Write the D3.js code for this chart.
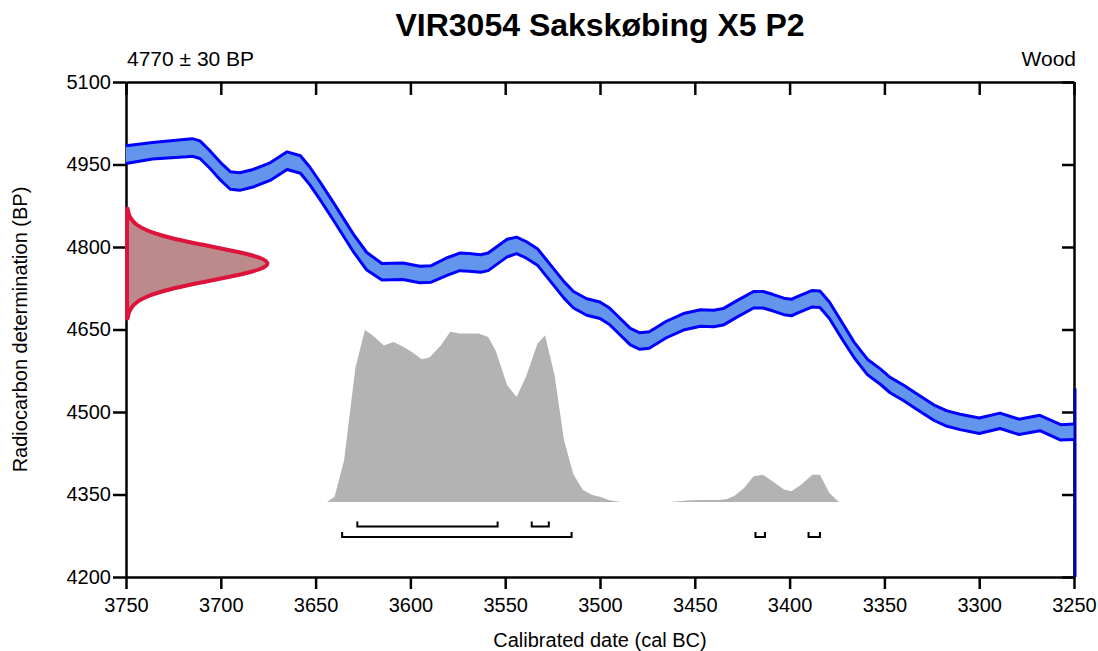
<!DOCTYPE html>
<html>
<head>
<meta charset="utf-8">
<script src="https://cdn.jsdelivr.net/npm/d3@7"></script>
<style>
  body { margin: 0; background: #fff; }
  svg { font-family: "Liberation Sans", Arial, sans-serif; }
  .axis path, .axis line { stroke: #000; stroke-width: 2.5; }
  .axis text { font-family: "Liberation Sans", Arial, sans-serif; font-size: 20px; fill: #000; }
</style>
</head>
<body>
<svg id="chart" width="1098" height="651"></svg>
<script>
// calibration curve (cal BC, BP, 1 sigma)
const curveYears = [3750,3736,3718,3715,3711,3706,3700,3695,3690,3683,3674,3665,3658,3653,3648,3641,3630,3623,3615,3604,3595,3589,3581,3574,3569,3563,3559,3549,3544,3539,3533,3526,3519,3514,3507,3500,3495,3484,3479,3474,3465,3456,3447,3440,3435,3428,3419,3414,3409,3403,3399,3395,3388,3384,3379,3372,3366,3359,3352,3347,3340,3333,3324,3317,3310,3300,3289,3279,3268,3257,3250];
const curveBP = [4968,4975,4980,4981,4977,4960,4937,4921,4919,4925,4937,4957,4950,4929,4904,4867,4807,4774,4755,4756,4750,4751,4764,4773,4772,4770,4773,4798,4803,4795,4782,4752,4722,4704,4691,4685,4674,4637,4629,4631,4650,4664,4671,4670,4673,4687,4704,4704,4699,4692,4690,4696,4706,4705,4685,4646,4613,4582,4564,4549,4535,4519,4499,4488,4482,4475,4484,4473,4480,4463,4464];
const curveErr = [16,15,16,16,16,16,16,16,16,16,16,16,16,16,16,16,16,16,15,15,15,15,16,16,16,16,16,16,15,15,15,15,15,15,15,15,15,15,15,15,15,15,15,15,15,15,15,15,15,15,15,15,15,15,15,15,14,14,14,14,14,14,14,14,14,14,14,14,14,14,14];

// radiocarbon measurement 4770 +/- 30 BP
const dateLabel = "4770 ± 30 BP";
const materialLabel = "Wood";
const measBP = [4670,4680,4690,4700,4710,4720,4730,4740,4750,4760,4770,4780,4790,4800,4810,4820,4830,4840,4850,4860,4870];
const measDensity = [0.004,0.011,0.029,0.066,0.135,0.249,0.411,0.607,0.801,0.946,1,0.946,0.801,0.607,0.411,0.249,0.135,0.066,0.029,0.011,0.004];

// calibrated probability (relative)
const probYears = [3653,3644,3640,3635,3629,3624,3620,3614,3609,3605,3599,3594,3590,3584,3579,3574,3564,3559,3555,3549,3544,3539,3533,3529,3524,3519,3514,3509,3504,3500,3495,3489,3463,3454,3447,3437,3433,3429,3424,3419,3414,3409,3403,3399,3394,3388,3384,3379,3374,3368];
const probValues = [0,0,0.03,0.24,0.78,1,0.97,0.91,0.93,0.91,0.87,0.83,0.84,0.91,0.99,0.98,0.98,0.96,0.88,0.68,0.61,0.73,0.92,0.97,0.74,0.36,0.16,0.07,0.04,0.03,0.01,0,0,0.008,0.012,0.012,0.017,0.037,0.081,0.149,0.159,0.12,0.072,0.062,0.1,0.159,0.159,0.052,0,0];

// highest posterior density ranges
const ranges68 = [[3628,3554],[3536,3527]];
const ranges95 = [[3636,3515],[3418,3413],[3390,3384]];

const xTicks = [3750,3700,3650,3600,3550,3500,3450,3400,3350,3300,3250];
const yTicks = [4200,4350,4500,4650,4800,4950,5100];

const svg = d3.select("#chart");
const mLeft = 126, mRight = 1074, mTop = 82, mBottom = 577;

const x = d3.scaleLinear().domain([3750, 3250]).range([mLeft, mRight]);
const y = d3.scaleLinear().domain([4200, 5100]).range([mBottom, mTop]);
const probY = d3.scaleLinear().domain([0, 1]).range([502, 330]);
const measX = d3.scaleLinear().domain([0, 1]).range([mLeft + 1, 270]);

// axes
svg.append("g").attr("class", "axis")
    .attr("transform", `translate(0,${mBottom})`)
    .call(d3.axisBottom(x).tickValues(xTicks).tickFormat(d3.format("d")).tickSize(12).tickSizeOuter(0).tickPadding(9));
svg.append("g").attr("class", "axis")
    .attr("transform", `translate(0,${mTop})`)
    .call(d3.axisTop(x).tickValues(xTicks).tickSize(-13).tickSizeOuter(0).tickFormat(""));
svg.append("g").attr("class", "axis")
    .attr("transform", `translate(${mLeft},0)`)
    .call(d3.axisLeft(y).tickValues(yTicks).tickFormat(d3.format("d")).tickSize(13).tickSizeOuter(0).tickPadding(2));
svg.append("g").attr("class", "axis")
    .attr("transform", `translate(${mRight},0)`)
    .call(d3.axisRight(y).tickValues(yTicks).tickSize(-12).tickSizeOuter(0).tickFormat(""));

// calibrated distribution
const probArea = d3.area()
    .x((d, i) => x(probYears[i]))
    .y0(probY(0))
    .y1(d => probY(d));
svg.append("path")
    .datum(probValues)
    .attr("d", probArea)
    .attr("fill", "#b3b3b3");

// ranges brackets
function drawRanges(ranges, yLine) {
    ranges.forEach(r => {
        svg.append("path")
            .attr("d", `M${x(r[0])},${yLine - 5}V${yLine}H${x(r[1])}V${yLine - 5}`)
            .attr("fill", "none")
            .attr("stroke", "#000")
            .attr("stroke-width", 2);
    });
}
drawRanges(ranges68, 526.5);
drawRanges(ranges95, 537);

// calibration curve band
const band = d3.area()
    .x((d, i) => x(curveYears[i]))
    .y0((d, i) => y(d - curveErr[i]))
    .y1((d, i) => y(d + curveErr[i]));
svg.append("path")
    .datum(curveBP)
    .attr("d", band)
    .attr("fill", "#6495ed");
["lower", "upper"].forEach(k => {
    const sgn = k === "upper" ? 1 : -1;
    svg.append("path")
        .datum(curveBP)
        .attr("d", d3.line()
            .x((d, i) => x(curveYears[i]))
            .y((d, i) => y(d + sgn * curveErr[i])))
        .attr("fill", "none")
        .attr("stroke", "#0000ff")
        .attr("stroke-width", 3)
        .attr("stroke-linejoin", "round");
});
svg.append("line")
    .attr("x1", x(3250) + 1).attr("x2", x(3250) + 1)
    .attr("y1", y(4543)).attr("y2", y(4200))
    .attr("stroke", "#0000b0")
    .attr("stroke-width", 3);

// measurement likelihood
const measArea = d3.area()
    .curve(d3.curveBasis)
    .y((d, i) => y(measBP[i]))
    .x0(measX(0))
    .x1(d => measX(d));
svg.append("path")
    .datum(measDensity)
    .attr("d", measArea)
    .attr("fill", "#bc8a8a")
    .attr("stroke", "#dc143c")
    .attr("stroke-width", 4)
    .attr("stroke-linejoin", "round");

// texts
svg.append("text")
    .attr("x", (mLeft + mRight) / 2).attr("y", 36)
    .attr("text-anchor", "middle")
    .style("font-size", "32px").style("font-weight", "bold")
    .text("VIR3054 Sakskøbing X5 P2");
svg.append("text")
    .attr("x", mLeft + 1).attr("y", 66)
    .style("font-size", "21px")
    .text(dateLabel);
svg.append("text")
    .attr("x", mRight + 2).attr("y", 66)
    .attr("text-anchor", "end")
    .style("font-size", "21px")
    .text(materialLabel);
svg.append("text")
    .attr("x", (mLeft + mRight) / 2).attr("y", 647)
    .attr("text-anchor", "middle")
    .style("font-size", "20px")
    .text("Calibrated date (cal BC)");
svg.append("text")
    .attr("transform", `translate(27,${(mTop + mBottom) / 2}) rotate(-90)`)
    .attr("text-anchor", "middle")
    .style("font-size", "20px")
    .text("Radiocarbon determination (BP)");
</script>
</body>
</html>
